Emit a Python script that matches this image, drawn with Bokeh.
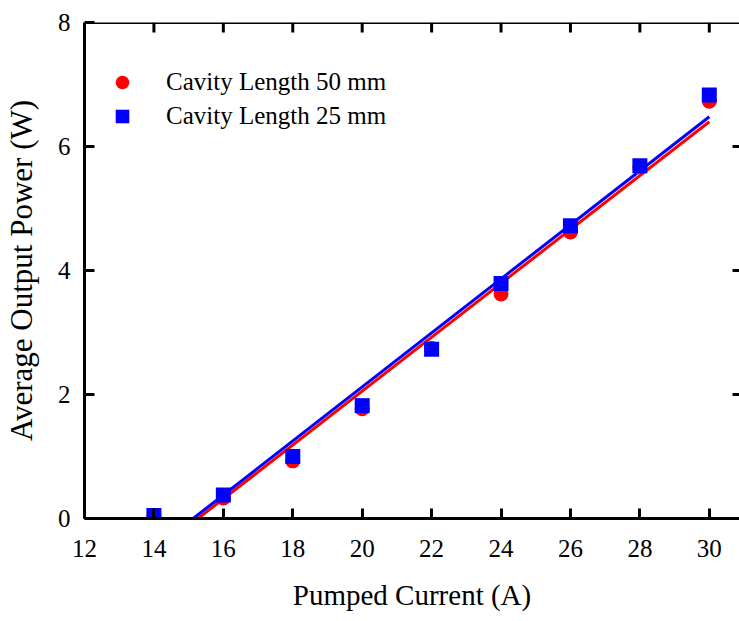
import math
from bokeh.plotting import figure
from bokeh.models import Range1d, Legend, LegendItem, FixedTicker, Span
from bokeh.embed import file_html
from bokeh.resources import INLINE

current = [14, 16, 18, 20, 22, 24, 26, 28, 30]
power_50mm = [0.05, 0.33, 0.93, 1.77, 2.74, 3.62, 4.62, 5.67, 6.73]
power_25mm = [0.05, 0.38, 1.00, 1.82, 2.73, 3.79, 4.72, 5.69, 6.83]
fit_x_50 = [15.27, 30.0]
fit_y_50 = [0.0, 6.40]
fit_x_25 = [15.13, 30.0]
fit_y_25 = [0.0, 6.48]
x_ticks = [12, 14, 16, 18, 20, 22, 24, 26, 28, 30]
y_ticks = [0, 2, 4, 6, 8]
X_MIN, X_MAX = 12, 30.87
Y_MIN, Y_MAX = 0, 8

FONT = "Liberation Serif"
RED = "#ff0000"
BLUE = "#0000ff"

p = figure(frame_width=655, frame_height=496, output_backend="svg", toolbar_location=None,
           x_range=Range1d(X_MIN, X_MAX), y_range=Range1d(Y_MIN, Y_MAX),
           min_border_left=84, min_border_top=22, min_border_right=0, min_border_bottom=10,
           x_axis_label="Pumped Current (A)", y_axis_label="Average Output Power (W)")
p.outline_line_color = None
p.grid.visible = False
p.background_fill_color = "white"
p.border_fill_color = "white"

for ax in (p.xaxis[0], p.yaxis[0]):
    ax.axis_line_width = 3
    ax.axis_line_color = "black"
    ax.major_tick_line_width = 3
    ax.major_tick_in = 10
    ax.major_tick_out = 0
    ax.minor_tick_line_color = None
    ax.major_label_text_font = FONT
    ax.major_label_text_font_size = "25px"
    ax.major_label_text_color = "black"
    ax.axis_label_text_font = FONT
    ax.axis_label_text_font_style = "normal"
    ax.axis_label_text_color = "black"

p.xaxis[0].axis_label_text_font_size = "29px"
p.yaxis[0].axis_label_text_font_size = "31px"
p.xaxis[0].ticker = FixedTicker(ticks=x_ticks)
p.yaxis[0].ticker = FixedTicker(ticks=y_ticks)
p.xaxis[0].major_label_standoff = 21
p.xaxis[0].axis_label_standoff = 19
p.yaxis[0].major_label_standoff = 14
p.yaxis[0].axis_label_standoff = 16

# top spine and inward ticks on top / right
p.add_layout(Span(location=Y_MAX, dimension="width", line_color="black", line_width=3))
p.ray(x=x_ticks[1:], y=[Y_MAX] * (len(x_ticks) - 1), length=10, length_units="screen",
      angle=-math.pi / 2, line_color="black", line_width=3)
p.ray(x=[X_MAX] * (len(y_ticks) - 2), y=y_ticks[1:-1], length=7, length_units="screen",
      angle=math.pi, line_color="black", line_width=3)

p.line(fit_x_50, fit_y_50, line_color=RED, line_width=3)
p.line(fit_x_25, fit_y_25, line_color=BLUE, line_width=3)
r50 = p.scatter(current, power_50mm, marker="circle", size=15, fill_color=RED, line_color=None)
r25 = p.scatter(current, power_25mm, marker="square", size=15, fill_color=BLUE, line_color=None)

legend = Legend(items=[LegendItem(label="Cavity Length 50 mm", renderers=[r50]),
                       LegendItem(label="Cavity Length 25 mm", renderers=[r25])],
                location=(21, 385))
legend.border_line_color = None
legend.background_fill_alpha = 0
legend.label_text_font = FONT
legend.label_text_font_size = "25px"
legend.label_text_color = "black"
legend.label_standoff = 27
legend.glyph_width = 34
legend.glyph_height = 34
legend.spacing = 0
legend.margin = 0
legend.padding = 0
legend.label_height = 34
p.add_layout(legend)

open("out.html", "w").write(file_html(p, INLINE))
